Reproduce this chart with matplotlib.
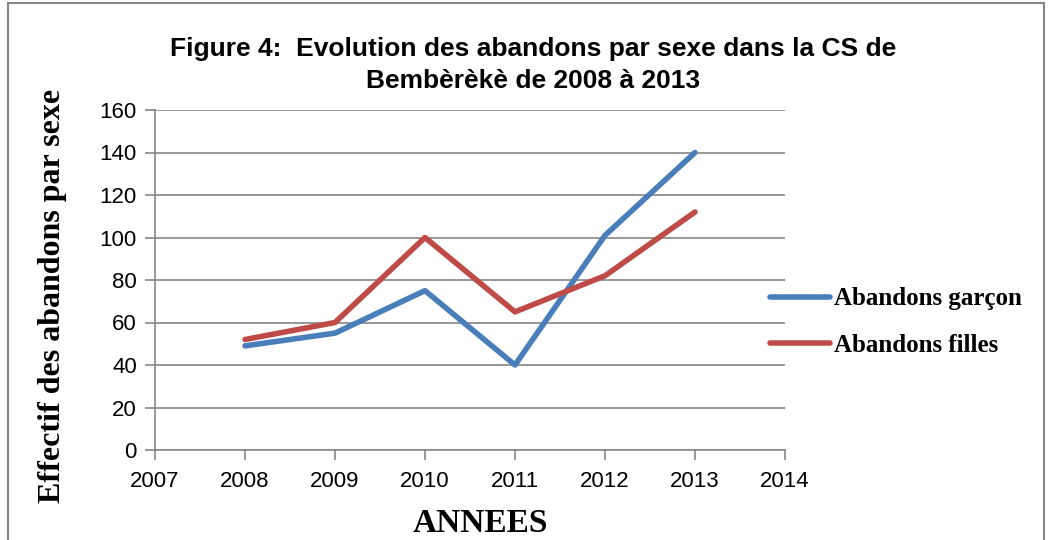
import matplotlib.pyplot as plt
from matplotlib.patches import Rectangle

# données
annees = [2008, 2009, 2010, 2011, 2012, 2013]
garcons = [49, 55, 75, 40, 101, 140]
filles = [52, 60, 100, 65, 82, 112]
noms = ["Abandons garçon", "Abandons filles"]
couleurs = ["#4A7EBB", "#BE4B48"]

plt.rcParams["font.family"] = "Liberation Sans"

fig = plt.figure(figsize=(10.52, 5.40), dpi=100)
ax = fig.add_axes([155 / 1052, 90 / 540, 630 / 1052, 340 / 540])

ax.plot(annees, garcons, color=couleurs[0], linewidth=4, label=noms[0], solid_capstyle="round")
ax.plot(annees, filles, color=couleurs[1], linewidth=4, label=noms[1], solid_capstyle="round")

ax.set_xlim(2007, 2014)
ax.set_ylim(0, 160)
ax.set_xticks(range(2007, 2015))
ax.set_yticks(range(0, 161, 20))
ax.tick_params(labelsize=16, color="#868686", length=7, width=1.2)
ax.tick_params(axis="x", pad=8)
ax.tick_params(axis="y", pad=6)
ax.grid(True, axis="y", color="#868686", linewidth=1.2)
ax.set_axisbelow(True)
for s in ["top", "right"]:
    ax.spines[s].set_visible(False)
for s in ["left", "bottom"]:
    ax.spines[s].set_color("#868686")
    ax.spines[s].set_linewidth(1.2)

fig.text(533 / 1052, 1 - 65 / 540, "Figure 4:  Evolution des abandons par sexe dans la CS de\nBembèrèkè de 2008 à 2013",
         fontsize=19, fontweight="bold", ha="center", va="center", linespacing=1.45)
ax.set_xlabel("ANNEES", fontsize=24, fontweight="bold", family="Liberation Serif")
ax.xaxis.set_label_coords(0.516, -0.17)
ax.set_ylabel("Effectif des abandons par sexe", fontsize=23, fontweight="bold",
              family="Liberation Serif")
ax.yaxis.set_label_coords(-0.14, 0.453)

leg = ax.legend(loc="center left", bbox_to_anchor=(0.976, 0.376), frameon=False,
                prop={"family": "Liberation Serif", "weight": "bold", "size": 18},
                handlelength=2.4, handletextpad=0.15, labelspacing=0.95,
                borderpad=0, borderaxespad=0)

# bordure du graphique
fig.patches.append(Rectangle((8 / 1052, -0.05), 1036 / 1052, 1.045, transform=fig.transFigure,
                             fill=False, edgecolor="#868686", linewidth=1.5))

fig.savefig("out.png", dpi=100)
